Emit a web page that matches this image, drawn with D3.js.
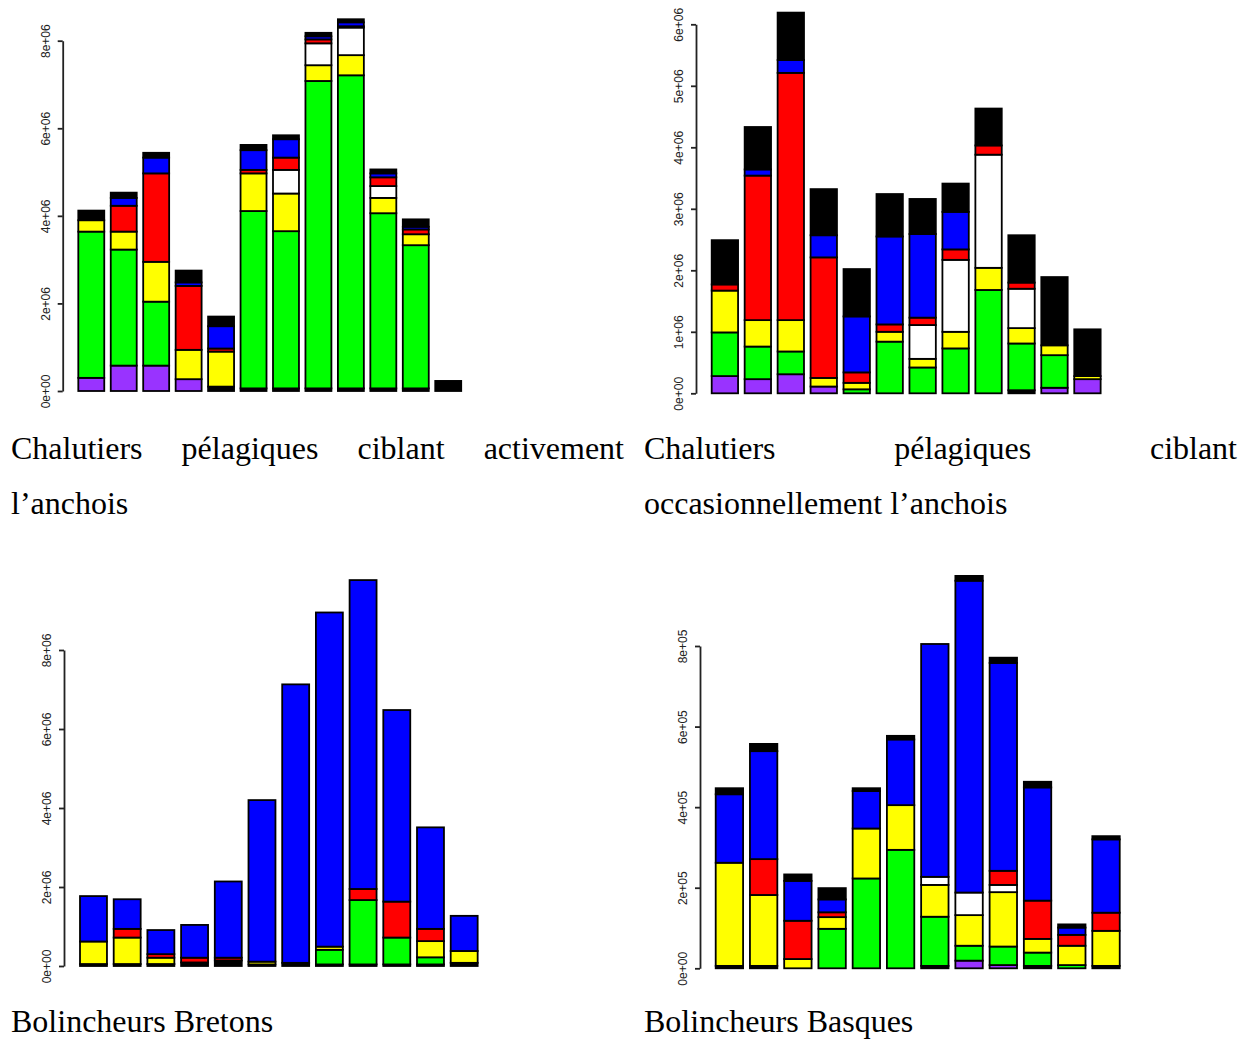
<!DOCTYPE html>
<html>
<head>
<meta charset="utf-8">
<script src="https://cdn.jsdelivr.net/npm/d3@7"></script>
<style>
  html, body { margin: 0; padding: 0; background: #fff; }
  svg { display: block; }
</style>
</head>
<body>
<script>
// ---------- DATA ----------
const barNames = ["1","2","3","4","5","6","7","8","9","10","11","12"];
const seriesKeys = ["noirBas","violet","vert","jaune","blanc","rouge","bleu","noirHaut"];
const seriesColors = ["#000000","#9933FF","#00FF00","#FFFF00","#FFFFFF","#FF0000","#0000FF","#000000"];

// Panel 1 : Chalutiers pélagiques ciblant activement l'anchois (millions)
const p1_noirBas  = [0,0,0,0,0.10,0.06,0.06,0.06,0.06,0.06,0.06,0];
const p1_violet   = [0.30,0.58,0.58,0.27,0,0,0,0,0,0,0,0];
const p1_vert     = [3.34,2.65,1.46,0,0,4.05,3.59,7.02,7.15,4.00,3.27,0];
const p1_jaune    = [0.26,0.41,0.91,0.67,0.80,0.86,0.86,0.36,0.46,0.35,0.25,0];
const p1_blanc    = [0,0,0,0,0,0,0.54,0.50,0.63,0.27,0,0];
const p1_rouge    = [0,0.59,2.02,1.46,0.07,0.08,0.28,0.09,0.03,0.20,0.11,0];
const p1_bleu     = [0,0.18,0.36,0.08,0.51,0.45,0.42,0.07,0.09,0.09,0.06,0];
const p1_noirHaut = [0.22,0.12,0.11,0.27,0.22,0.12,0.09,0.08,0.07,0.09,0.17,0.23];
const p1_ticks = [0,2,4,6,8];
const p1_tickLabels = ["0e+00","2e+06","4e+06","6e+06","8e+06"];

// Panel 2 : Chalutiers pélagiques ciblant occasionnellement l'anchois (millions)
const p2_noirBas  = [0,0,0,0,0,0,0,0,0,0.05,0,0];
const p2_violet   = [0.28,0.23,0.31,0.11,0,0,0,0,0,0,0.09,0.23];
const p2_vert     = [0.71,0.53,0.37,0,0.065,0.84,0.42,0.73,1.68,0.76,0.53,0];
const p2_jaune    = [0.68,0.43,0.51,0.14,0.105,0.16,0.14,0.27,0.36,0.25,0.16,0.05];
const p2_blanc    = [0,0,0,0,0,0,0.55,1.17,1.84,0.64,0,0];
const p2_rouge    = [0.10,2.35,4.02,1.96,0.17,0.12,0.12,0.17,0.15,0.10,0,0];
const p2_bleu     = [0,0.10,0.21,0.36,0.91,1.43,1.36,0.61,0,0,0,0];
const p2_noirHaut = [0.72,0.69,0.77,0.75,0.77,0.69,0.57,0.46,0.60,0.77,1.11,0.76];
const p2_ticks = [0,1,2,3,4,5,6];
const p2_tickLabels = ["0e+00","1e+06","2e+06","3e+06","4e+06","5e+06","6e+06"];

// Panel 3 : Bolincheurs Bretons (millions)
const p3_noirBas  = [0.05,0.05,0.05,0.09,0.14,0.04,0.08,0.04,0.04,0.04,0.04,0.08];
const p3_violet   = [0,0,0,0,0,0,0,0,0,0,0,0];
const p3_vert     = [0,0,0,0,0,0,0,0.37,1.63,0.68,0.18,0];
const p3_jaune    = [0.57,0.67,0.16,0,0,0.07,0,0.08,0,0,0.41,0.30];
const p3_blanc    = [0,0,0,0,0,0,0,0,0,0,0,0];
const p3_rouge    = [0,0.22,0.09,0.12,0.07,0,0,0,0.28,0.91,0.31,0];
const p3_bleu     = [1.15,0.75,0.61,0.83,1.93,4.09,7.05,8.46,7.82,4.85,2.57,0.89];
const p3_noirHaut = [0,0,0,0,0,0,0,0,0,0,0,0];
const p3_ticks = [0,2,4,6,8];
const p3_tickLabels = ["0e+00","2e+06","4e+06","6e+06","8e+06"];

// Panel 4 : Bolincheurs Basques (centaines de milliers)
const p4_noirBas  = [0.06,0.06,0,0,0,0,0.06,0,0,0.06,0,0.06];
const p4_violet   = [0,0,0,0,0,0,0,0.19,0.08,0,0,0];
const p4_vert     = [0,0,0,0.98,2.23,2.94,1.22,0.37,0.46,0.33,0.08,0];
const p4_jaune    = [2.56,1.76,0.23,0.29,1.24,1.11,0.79,0.76,1.35,0.34,0.48,0.87];
const p4_blanc    = [0,0,0,0,0,0,0.20,0.56,0.18,0,0,0];
const p4_rouge    = [0,0.89,0.95,0.12,0,0,0,0,0.35,0.95,0.27,0.45];
const p4_bleu     = [1.70,2.68,0.99,0.32,0.93,1.63,5.78,7.74,5.16,2.81,0.18,1.82];
const p4_noirHaut = [0.15,0.18,0.16,0.28,0.07,0.09,0,0.12,0.13,0.14,0.08,0.08];
const p4_ticks = [0,2,4,6,8];
const p4_tickLabels = ["0e+00","2e+05","4e+05","6e+05","8e+05"];

// Captions (lines as laid out in the document)
const captionTL = [["Chalutiers","pélagiques","ciblant","activement"],["l’anchois"]];
const captionTR = [["Chalutiers","pélagiques","ciblant"],["occasionnellement","l’anchois"]];
const captionBL = [["Bolincheurs","Bretons"]];
const captionBR = [["Bolincheurs","Basques"]];

// ---------- DRAWING ----------
const W = 1241, H = 1039;
const svg = d3.select("body").append("svg").attr("width", W).attr("height", H);

function buildRows(cols) {
  return barNames.map((name, i) => {
    const row = { name };
    seriesKeys.forEach((k, j) => row[k] = cols[j][i]);
    return row;
  });
}

function drawPanel(cols, ticks, tickLabels, lay) {
  const rows = buildRows(cols);
  const stacked = d3.stack().keys(seriesKeys)(rows);
  const y = d3.scaleLinear().domain([0, ticks[ticks.length - 1]]).range([lay.y0, lay.yTop]);
  const x = d3.scaleBand().domain(barNames)
    .range([lay.barLeft, lay.barLeft + 11.8 * lay.step])
    .paddingInner(0.2).paddingOuter(0);

  const g = svg.append("g");
  stacked.forEach((layer, li) => {
    g.append("g").attr("fill", seriesColors[li])
      .selectAll("rect")
      .data(layer.filter(d => d[1] - d[0] > 0))
      .join("rect")
      .attr("x", d => x(d.data.name))
      .attr("width", x.bandwidth())
      .attr("y", d => y(d[1]))
      .attr("height", d => y(d[0]) - y(d[1]))
      .attr("stroke", "#000")
      .attr("stroke-width", 1.8);
  });

  const ax = svg.append("g")
    .attr("transform", `translate(${lay.axisX},0)`)
    .call(d3.axisLeft(y).tickValues(ticks).tickFormat((d, i) => tickLabels[i])
      .tickSize(5).tickSizeOuter(0));
  ax.select(".domain").attr("stroke", "#222").attr("stroke-width", 1.8);
  ax.selectAll(".tick line").attr("stroke", "#222").attr("stroke-width", 1.8);
  ax.selectAll(".tick text")
    .attr("x", null).attr("dy", null)
    .attr("text-anchor", "middle")
    .attr("transform", "translate(-13,0) rotate(-90)")
    .attr("fill", "#222")
    .style("font-family", "'Liberation Sans', Arial, sans-serif")
    .style("font-size", "12px");
}

drawPanel([p1_noirBas,p1_violet,p1_vert,p1_jaune,p1_blanc,p1_rouge,p1_bleu,p1_noirHaut],
  p1_ticks, p1_tickLabels, { axisX: 62.7, y0: 391, yTop: 40.7, barLeft: 78.3, step: 32.45 });
drawPanel([p2_noirBas,p2_violet,p2_vert,p2_jaune,p2_blanc,p2_rouge,p2_bleu,p2_noirHaut],
  p2_ticks, p2_tickLabels, { axisX: 696, y0: 393.3, yTop: 24.3, barLeft: 711.7, step: 32.96 });
drawPanel([p3_noirBas,p3_violet,p3_vert,p3_jaune,p3_blanc,p3_rouge,p3_bleu,p3_noirHaut],
  p3_ticks, p3_tickLabels, { axisX: 64, y0: 966, yTop: 650, barLeft: 80, step: 33.7 });
drawPanel([p4_noirBas,p4_violet,p4_vert,p4_jaune,p4_blanc,p4_rouge,p4_bleu,p4_noirHaut],
  p4_ticks, p4_tickLabels, { axisX: 700, y0: 968.3, yTop: 646, barLeft: 715.7, step: 34.24 });

function drawCaption(lines, left, right, baseline, lineH) {
  const g = svg.append("g")
    .style("font-family", "'Liberation Serif', 'Times New Roman', serif")
    .style("font-size", "32px").attr("fill", "#000");
  lines.forEach((words, li) => {
    const by = baseline + li * lineH;
    const isLast = li === lines.length - 1;
    const nodes = words.map(w => g.append("text").attr("y", by).text(w));
    const widths = nodes.map(n => n.node().getComputedTextLength());
    const total = d3.sum(widths);
    let gap;
    if (!isLast && words.length > 1) gap = (right - left - total) / (words.length - 1);
    else {
      const sp = g.append("text").text("\u00a0");
      gap = sp.node().getComputedTextLength();
      sp.remove();
    }
    let cx = left;
    nodes.forEach((n, i) => { n.attr("x", cx); cx += widths[i] + gap; });
  });
}

drawCaption(captionTL, 11, 624, 459.3, 55);
drawCaption(captionTR, 644, 1237, 459.3, 55);
drawCaption(captionBL, 11, 624, 1031.5, 55);
drawCaption(captionBR, 644, 1237, 1031.5, 55);
</script>
</body>
</html>
